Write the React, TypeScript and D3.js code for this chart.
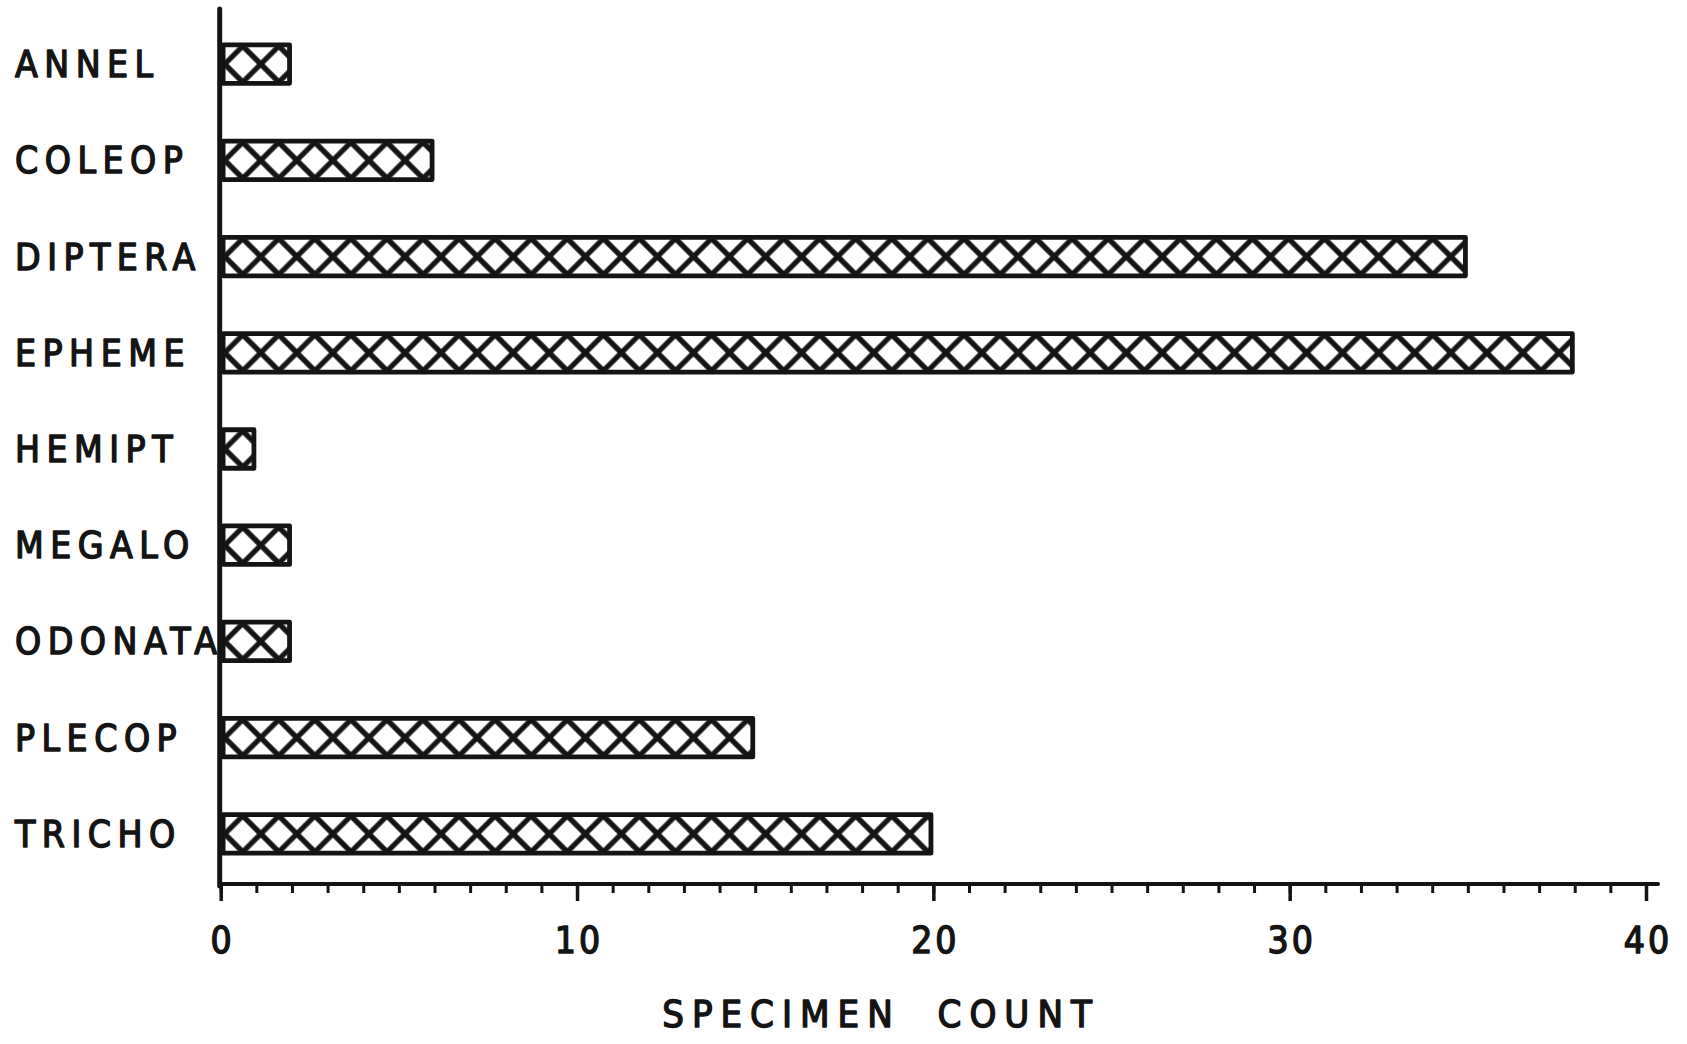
import React, { useEffect, useRef } from "react";
import * as d3 from "d3";

// taxa (order groups) and specimen counts
const taxa = [
  "ANNEL",
  "COLEOP",
  "DIPTERA",
  "EPHEME",
  "HEMIPT",
  "MEGALO",
  "ODONATA",
  "PLECOP",
  "TRICHO",
];
const counts = [2, 6, 35, 38, 1, 2, 2, 15, 20];
const majorTicks = [0, 10, 20, 30, 40];
const minorTicks = d3.range(0, 41);
const xTitle = "SPECIMEN COUNT";

const INK = "#141414";
const FONT = "'DejaVu Sans Condensed', 'DejaVu Sans', sans-serif";

const App = () => {
  const ref = useRef<SVGSVGElement | null>(null);

  useEffect(() => {
    const width = 1687;
    const height = 1044;

    const svg = d3.select(ref.current);
    svg.selectAll("*").remove();
    svg.attr("width", width).attr("height", height);

    svg.append("rect").attr("width", width).attr("height", height).attr("fill", "#fff");

    // scales
    const x = d3.scaleLinear().domain([0, 40]).range([220.7, 1646]);
    const y = d3
      .scaleBand()
      .domain(taxa)
      .range([16, 882])
      .paddingInner(0.55)
      .paddingOuter(0.275);

    const axisY = 884;
    const cell = 25.5; // 45deg lattice, ~36px between crossings along a row

    // crosshatch fill, one per bar so the crossings sit on the bar's midline
    const defs = svg.append("defs");
    taxa.forEach((d, i) => {
      const cy = (y(d) as number) + y.bandwidth() / 2;
      const pat = defs
        .append("pattern")
        .attr("id", `xhatch${i}`)
        .attr("patternUnits", "userSpaceOnUse")
        .attr("width", cell)
        .attr("height", cell)
        .attr("patternTransform", `translate(${x(0) + 4},${cy}) rotate(45)`);
      pat.append("rect").attr("width", cell).attr("height", cell).attr("fill", "#fff");
      pat
        .append("path")
        .attr("d", `M0,0H${cell}M0,${cell}H${cell}M0,0V${cell}M${cell},0V${cell}`)
        .attr("stroke", INK)
        .attr("stroke-width", 5.2);
    });

    // bars
    const barStroke = 4.8;
    svg
      .append("g")
      .selectAll("rect")
      .data(taxa)
      .enter()
      .append("rect")
      .attr("x", x(0) + barStroke / 2)
      .attr("y", (d) => (y(d) as number) + barStroke / 2)
      .attr("width", (d, i) => x(counts[i]) - x(0) - barStroke)
      .attr("height", y.bandwidth() - barStroke)
      .attr("fill", (d, i) => `url(#xhatch${i})`)
      .attr("stroke", INK)
      .attr("stroke-width", barStroke)
      .attr("stroke-linejoin", "round");

    // category labels
    svg
      .append("g")
      .selectAll("text")
      .data(taxa)
      .enter()
      .append("text")
      .attr("x", 15)
      .attr("y", (d) => (y(d) as number) + y.bandwidth() / 2 + 13)
      .attr("font-family", FONT)
      .attr("font-size", 37)
      .attr("letter-spacing", 6.5)
      .attr("fill", INK)
      .attr("stroke", INK)
      .attr("stroke-width", 1.4)
      .attr("stroke-linejoin", "round")
      .text((d) => d);

    // x axis: minor ticks every unit, major every ten
    svg
      .append("g")
      .attr("transform", `translate(0,${axisY})`)
      .call(d3.axisBottom(x).tickValues(minorTicks).tickSize(9).tickFormat(() => ""))
      .call((g) => g.select(".domain").remove())
      .selectAll("line")
      .attr("stroke", INK)
      .attr("stroke-width", 3);

    const major = svg
      .append("g")
      .attr("transform", `translate(0,${axisY})`)
      .call(d3.axisBottom(x).tickValues(majorTicks).tickSize(17).tickPadding(26).tickFormat(d3.format("d")));
    major.select(".domain").remove();
    major.selectAll("line").attr("stroke", INK).attr("stroke-width", 3.5);
    major
      .selectAll("text")
      .attr("font-family", FONT)
      .attr("font-size", 37)
      .attr("letter-spacing", 3)
      .attr("dx", 1.5)
      .attr("fill", INK)
      .attr("stroke", INK)
      .attr("stroke-width", 1.4)
      .attr("stroke-linejoin", "round");

    // axis lines
    svg
      .append("line")
      .attr("x1", x(0))
      .attr("x2", x(40) + 12)
      .attr("y1", axisY)
      .attr("y2", axisY)
      .attr("stroke", INK)
      .attr("stroke-width", 4)
      .attr("stroke-linecap", "round");
    svg
      .append("line")
      .attr("x1", x(0) - 1)
      .attr("x2", x(0) - 1)
      .attr("y1", 9)
      .attr("y2", axisY + 2)
      .attr("stroke", INK)
      .attr("stroke-width", 5)
      .attr("stroke-linecap", "round");

    // axis title
    svg
      .append("text")
      .attr("x", 881)
      .attr("y", 1027)
      .attr("text-anchor", "middle")
      .attr("font-family", FONT)
      .attr("font-size", 38)
      .attr("letter-spacing", 8)
      .attr("word-spacing", 18)
      .attr("fill", INK)
      .attr("stroke", INK)
      .attr("stroke-width", 1.4)
      .attr("stroke-linejoin", "round")
      .text(xTitle);
  }, []);

  return (
    <svg
      ref={ref}
      style={{ position: "absolute", left: 0, top: 0, display: "block" }}
    ></svg>
  );
};

export default App;
